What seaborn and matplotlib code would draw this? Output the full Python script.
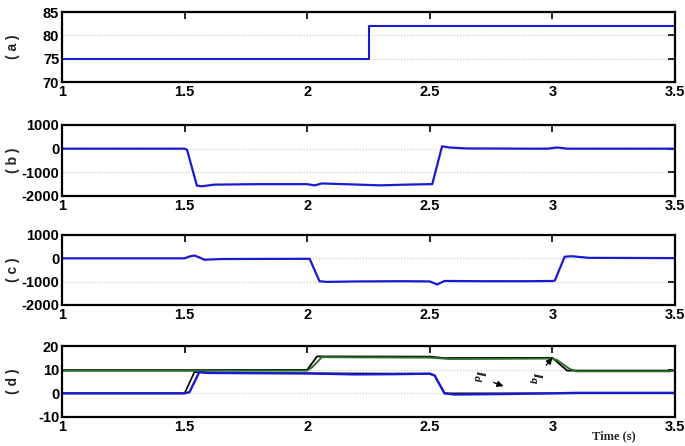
import matplotlib
matplotlib.use("Agg")
import matplotlib.pyplot as plt
import seaborn as sns
import pandas as pd

# ---------------- data ----------------
x_ticks = [1, 1.5, 2, 2.5, 3, 3.5]
x_ticklabels = ["1", "1.5", "2", "2.5", "3", "3.5"]
panel_labels = ["( a )", "( b )", "( c )", "( d )"]

a_ticks = [70, 75, 80, 85]
bc_ticks = [-2000, -1000, 0, 1000]
d_ticks = [-10, 0, 10, 20]

# (a)
a_t = [1.0, 2.25, 2.25, 3.5]
a_v = [75, 75, 82, 82]

# (b)
b_t = [1.0, 1.5, 1.51, 1.55, 1.57, 1.62, 1.8, 2.0, 2.03, 2.06, 2.09, 2.15, 2.3, 2.4, 2.5,
       2.51, 2.55, 2.58, 2.65, 2.9, 2.98, 3.02, 3.06, 3.2, 3.5]
b_v = [0, 0, -50, -1560, -1590, -1520, -1500, -1500, -1550, -1470, -1480, -1500, -1550, -1520,
       -1500, -1500, 100, 50, 10, 0, 0, 50, 0, 0, 0]

# (c)
c_t = [1.0, 1.5, 1.52, 1.54, 1.56, 1.58, 1.65, 2.0, 2.01, 2.05, 2.08, 2.2, 2.4, 2.5, 2.53,
       2.56, 2.7, 2.9, 3.0, 3.01, 3.05, 3.08, 3.15, 3.5]
c_v = [0, 0, 80, 120, 40, -60, -30, -20, -20, -980, -1010, -990, -980, -990, -1120,
       -970, -980, -980, -970, -950, 70, 90, 20, 10]

# (d) black reference currents
dq_ref_t = [1.0, 1.5, 2.0, 2.04, 2.5, 2.56, 3.0, 3.06, 3.5]
dq_ref_v = [9.8, 9.8, 9.9, 15.6, 15.5, 14.9, 15.0, 9.6, 9.6]
dd_ref_t = [1.0, 1.5, 1.54, 1.6, 2.5, 2.52, 2.56, 3.5]
dd_ref_v = [0, 0, 9.0, 8.6, 8.3, 7.5, 0, 0]
# (d) measured currents
dq_t = [1.0, 1.5, 2.0, 2.02, 2.06, 2.2, 2.5, 2.53, 2.58, 2.8, 3.0, 3.02, 3.07, 3.1, 3.3, 3.48, 3.5]
dq_v = [9.5, 9.5, 9.6, 11, 15.3, 15.2, 15.1, 14.9, 14.5, 14.6, 14.7, 14.0, 10.3, 9.3, 9.3, 9.3, 10.0]
dd_t = [1.0, 1.5, 1.52, 1.56, 1.6, 1.8, 2.0, 2.2, 2.35, 2.5, 2.52, 2.56, 2.6, 2.8, 3.0, 3.1, 3.5]
dd_v = [0, 0, 0.5, 9.0, 8.6, 8.5, 8.4, 8.0, 8.1, 8.3, 7.5, 0, -0.5, -0.3, 0, 0.2, 0.2]

# annotation labels
ann_text = ["$I_d$", "$I_q$"]
ann_xy = [(2.80, 3.0), (3.0, 15.0)]
ann_text_xy = [(2.70, 7.0), (2.93, 6.5)]

# ---------------- style ----------------
sns.set_theme(style="white")
plt.rcParams["font.family"] = ["Liberation Sans", "DejaVu Sans"]
plt.rcParams["font.weight"] = "bold"
plt.rcParams["axes.labelweight"] = "bold"

W, H = 685, 446
fig = plt.figure(figsize=(W / 100, H / 100), dpi=100)
fig.patch.set_facecolor("white")

left_px, right_px = 62, 675
boxes = [(12, 82), (125, 196), (235, 305), (346, 417)]
axes = []
for top, bot in boxes:
    ax = fig.add_axes([left_px / W, 1 - bot / H, (right_px - left_px) / W, (bot - top) / H])
    axes.append(ax)

BLUE = "#1a1ad0"
GREEN = "#2a702a"

df_a = pd.DataFrame({"t": a_t, "v": a_v})
sns.lineplot(data=df_a, x="t", y="v", ax=axes[0], color=BLUE, lw=1.5, sort=False, estimator=None)
df_b = pd.DataFrame({"t": b_t, "v": b_v})
sns.lineplot(data=df_b, x="t", y="v", ax=axes[1], color=BLUE, lw=1.6, sort=False, estimator=None)
df_c = pd.DataFrame({"t": c_t, "v": c_v})
sns.lineplot(data=df_c, x="t", y="v", ax=axes[2], color=BLUE, lw=1.6, sort=False, estimator=None)

axd = axes[3]
sns.lineplot(data=pd.DataFrame({"t": dq_ref_t, "v": dq_ref_v}), x="t", y="v", ax=axd,
             color="black", lw=1.3, sort=False, estimator=None)
sns.lineplot(data=pd.DataFrame({"t": dd_ref_t, "v": dd_ref_v}), x="t", y="v", ax=axd,
             color="black", lw=1.2, sort=False, estimator=None)
sns.lineplot(data=pd.DataFrame({"t": dq_t, "v": dq_v}), x="t", y="v", ax=axd,
             color=GREEN, lw=1.4, sort=False, estimator=None)
sns.lineplot(data=pd.DataFrame({"t": dd_t, "v": dd_v}), x="t", y="v", ax=axd,
             color=BLUE, lw=1.7, sort=False, estimator=None)

for (txt, xy, xyt) in zip(ann_text, ann_xy, ann_text_xy):
    axd.annotate(txt, xy=xy, xytext=xyt, fontsize=9, rotation=-90, ha="center", va="center",
                 family=["Liberation Serif", "DejaVu Serif"],
                 arrowprops=dict(arrowstyle="-|>", color="black", lw=0.9,
                                 mutation_scale=9, shrinkA=3, shrinkB=0))

ylims = [(70, 85), (-2000, 1000), (-2000, 1000), (-10, 20)]
yticks = [a_ticks, bc_ticks, bc_ticks, d_ticks]
for ax, lab, yl, yt in zip(axes, panel_labels, ylims, yticks):
    ax.set_xlim(1, 3.5)
    ax.set_ylim(*yl)
    ax.set_xticks(x_ticks)
    ax.set_xticklabels(x_ticklabels)
    ax.set_yticks(yt)
    ax.set_yticklabels([str(v) for v in yt])
    ax.set_xlabel("")
    ax.set_ylabel(lab, fontsize=10, fontweight="bold")
    ax.yaxis.set_label_coords(-0.068, 0.5)
    ax.grid(axis="y", color="#c8c8c8", lw=0.8, ls=":")
    ax.grid(axis="x", visible=False)
    for s in ax.spines.values():
        s.set_color("black")
        s.set_linewidth(1.6)
    ax.tick_params(axis="both", direction="in", length=5, width=1.2, color="black",
                   top=True, right=True, labelsize=10.5, pad=2, labelcolor="black")
    for lbl in ax.get_xticklabels() + ax.get_yticklabels():
        lbl.set_fontweight("bold")

fig.text(614 / W, 1 - 436 / H, "Time (s)", fontsize=9, fontweight="bold",
         family=["Liberation Serif", "DejaVu Serif"], ha="center", va="center")

fig.savefig("out.png", dpi=100, facecolor="white")
